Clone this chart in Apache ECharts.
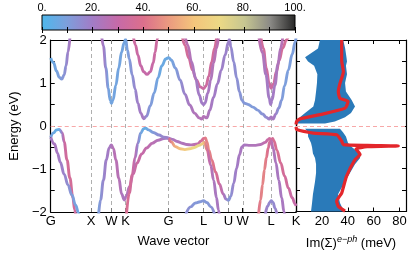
<!DOCTYPE html>
<html><head><meta charset="utf-8">
<script src="https://cdn.jsdelivr.net/npm/echarts@6/dist/echarts.min.js"></script>
<style>html,body{margin:0;padding:0;background:#fff}#c{width:415px;height:255px}</style>
</head><body><div id="c"></div>
<script>
// ---- k-path ----
const kTicks = [0, 1, 1.5, 1.8536, 2.9142, 3.7802, 4.3926, 4.7462, 5.4533, 6.0657];
const kLabels = ['G','X','W','K','G','L','U','W','L','K'];
// ---- colour scale (weight 0..100) ----
const cmapValues = [0,10,20,30,40,50,60,70,80,90,100];
const cmapColors = ['#4db8ec','#7d9fdc','#a27cc6','#c66aa8','#dc6f8c','#eb9a80','#f4c57c','#ecd985','#c6c691','#8b8a86','#262626'];
const colorbarLabels = [0,20,40,60,80,100];
// ---- bands: [k, E (eV), weight] ----
const cb1 = [[0,1.58,6],[0.071,1.47,6],[0.142,1.28,8],[0.213,1.13,10],[0.273,1.09,12],[0.332,1.19,14],[0.379,1.40,18],[0.427,1.72,22],[0.474,2.05,24]];
const cb2 = [[1.256,2.12,25],[1.303,1.86,24],[1.363,1.35,20],[1.422,0.88,15],[1.469,0.60,10],[1.5,0.53,8],[1.540,0.60,8],[1.611,0.95,8],[1.682,1.35,8],[1.754,1.72,8],[1.813,1.93,8],[1.853,2.02,8],[1.896,1.77,8],[1.943,1.56,10],[2.014,1.19,12],[2.085,0.86,15],[2.156,0.53,18],[2.227,0.30,20],[2.299,0.17,22],[2.370,0.23,18],[2.464,0.47,12],[2.559,0.77,10],[2.654,1.12,8],[2.749,1.40,6],[2.844,1.56,6],[2.915,1.59,6],[2.986,1.53,8],[3.081,1.35,10],[3.199,1.07,14],[3.318,0.74,18],[3.436,0.49,22],[3.555,0.30,24],[3.673,0.19,25],[3.732,0.16,25],[3.780,0.22,25],[3.863,0.19,24],[3.934,0.37,22],[4.028,0.67,20],[4.123,0.98,20],[4.218,1.30,19],[4.313,1.65,18],[4.393,1.95,18],[4.420,2.02,18],[4.455,1.84,16],[4.526,1.49,15],[4.597,1.12,14],[4.668,0.79,13],[4.728,0.60,12],[4.787,0.53,12],[4.882,0.50,11],[5.0,0.44,11],[5.118,0.37,12],[5.237,0.28,14],[5.332,0.20,18],[5.403,0.16,22],[5.450,0.21,22],[5.498,0.16,20],[5.569,0.28,14],[5.640,0.42,12],[5.711,0.60,10],[5.782,0.93,10],[5.877,1.30,10],[5.972,1.67,10],[6.043,1.95,10],[6.066,2.05,10]];
const cb3 = [[2.038,2.12,33],[2.097,1.88,33],[2.156,1.65,32],[2.227,1.40,30],[2.299,1.26,30],[2.381,1.20,30],[2.464,1.26,30],[2.536,1.47,32],[2.583,1.72,33],[2.630,2.0,34],[2.654,2.14,34]];
const cb4 = [[3.246,2.12,36],[3.318,1.88,36],[3.412,1.58,35],[3.507,1.30,34],[3.602,1.07,33],[3.697,0.91,32],[3.780,0.87,32],[3.839,0.93,33],[3.910,1.16,34],[3.981,1.49,35],[4.052,1.81,36],[4.100,2.05,36]];
const cb5 = [[3.318,2.12,28],[3.389,1.88,27],[3.483,1.49,25],[3.578,1.12,22],[3.673,0.72,20],[3.744,0.53,20],[3.780,0.50,20],[3.815,0.53,20],[3.886,0.77,22],[3.957,1.07,24],[4.028,1.47,26],[4.100,1.81,27],[4.147,2.05,28]];
const cb6 = [[5.190,2.12,36],[5.260,1.80,35],[5.330,1.35,34],[5.400,1.00,33],[5.450,0.88,32],[5.510,0.98,33],[5.580,1.26,34],[5.650,1.53,35],[5.735,1.81,36],[5.829,2.0,36],[5.877,2.09,36]];
const cb7 = [[5.142,2.12,28],[5.237,1.70,26],[5.320,1.20,22],[5.403,0.65,20],[5.438,0.50,20],[5.474,0.60,20],[5.545,0.95,22],[5.616,1.42,24],[5.687,1.81,26],[5.735,2.05,28]];
const vb1 = [[0,-0.26,10],[0.071,-0.16,8],[0.142,-0.09,5],[0.213,-0.08,5],[0.284,-0.16,20],[0.332,-0.37,32],[0.403,-0.79,36],[0.474,-1.21,36],[0.545,-1.65,34],[0.592,-1.95,32],[0.616,-2.07,32]];
const vb2 = [[0,-0.26,18],[0.095,-0.42,22],[0.166,-0.63,22],[0.237,-0.84,20],[0.332,-1.12,18],[0.427,-1.37,14],[0.521,-1.60,10],[0.616,-1.84,8],[0.687,-2.02,6],[0.711,-2.09,6]];
const vb3 = [[1.185,-2.05,8],[1.232,-1.72,10],[1.303,-1.26,14],[1.374,-0.79,18],[1.445,-0.51,20],[1.5,-0.44,22],[1.552,-0.53,24],[1.611,-0.79,26],[1.682,-1.21,26],[1.754,-1.58,24],[1.818,-1.72,22],[1.872,-1.63,24],[1.943,-1.42,28],[2.038,-1.12,32],[2.133,-0.86,32],[2.251,-0.65,30],[2.370,-0.51,28],[2.512,-0.40,26],[2.654,-0.33,24],[2.796,-0.29,22],[2.915,-0.28,20]];
const vb4 = [[1.872,-2.07,38],[1.943,-1.56,38],[2.014,-1.14,36],[2.085,-0.74,30],[2.156,-0.40,20],[2.227,-0.16,10],[2.299,-0.06,5],[2.346,-0.05,5],[2.417,-0.09,8],[2.536,-0.15,12],[2.678,-0.21,16],[2.796,-0.26,18],[2.915,-0.28,20]];
const vb5 = [[2.915,-0.28,20],[3.009,-0.31,22],[3.128,-0.36,24],[3.246,-0.40,24],[3.365,-0.43,24],[3.483,-0.44,25],[3.626,-0.42,28],[3.720,-0.35,32],[3.780,-0.29,38],[3.827,-0.28,42],[3.863,-0.37,44],[3.910,-0.56,46],[3.981,-0.79,44],[4.076,-1.07,40],[4.171,-1.35,34],[4.265,-1.58,26],[4.336,-1.70,18],[4.396,-1.73,12],[4.455,-1.63,14],[4.526,-1.33,18],[4.597,-0.98,20],[4.668,-0.67,22],[4.728,-0.49,22],[4.787,-0.44,22],[4.929,-0.45,24],[5.071,-0.45,24],[5.190,-0.43,26],[5.308,-0.38,30],[5.379,-0.31,34],[5.415,-0.29,36],[5.450,-0.33,36],[5.486,-0.29,38],[5.521,-0.35,38],[5.592,-0.56,38],[5.687,-0.86,36],[5.782,-1.16,34],[5.877,-1.44,32],[5.972,-1.67,30],[6.043,-1.81,28],[6.066,-1.86,28]];
const vb6 = [[2.915,-0.28,15],[2.986,-0.37,40],[3.081,-0.48,52],[3.199,-0.53,58],[3.318,-0.55,62],[3.436,-0.53,66],[3.555,-0.50,70],[3.673,-0.45,72],[3.744,-0.42,62],[3.800,-0.38,45],[3.863,-0.55,30],[3.957,-0.91,24],[4.028,-1.26,22],[4.100,-1.67,22],[4.147,-1.95,22],[4.171,-2.07,22]];
const vb7 = [[5.142,-2.05,40],[5.190,-1.72,42],[5.237,-1.37,44],[5.284,-1.02,45],[5.332,-0.74,44],[5.379,-0.51,40],[5.415,-0.37,35],[5.450,-0.35,28],[5.498,-0.51,24],[5.569,-0.86,22],[5.640,-1.26,22],[5.711,-1.67,22],[5.770,-2.0,22],[5.794,-2.12,22]];
const vb8 = [[3.341,-2.05,15],[3.460,-1.88,14],[3.578,-1.79,12],[3.697,-1.76,12],[3.775,-1.74,12],[3.863,-1.78,12],[3.957,-1.88,14],[4.052,-2.05,16]];
const vb9 = [[5.308,-2.05,20],[5.367,-1.86,18],[5.415,-1.78,16],[5.450,-1.74,16],[5.498,-1.78,16],[5.545,-1.91,18],[5.592,-2.05,20]];
const bands = [cb1,cb2,cb3,cb4,cb5,cb6,cb7,vb1,vb2,vb3,vb4,vb5,vb6,vb7,vb8,vb9];
// ---- self-energy panel ----
const upE  = [2.0, 1.8, 1.6, 1.5, 1.4, 1.2, 1.0, 0.8, 0.6, 0.45, 0.3, 0.2, 0.1, 0.05];
const upLo = [18.5,17,7,9.3,14,16.5,16.2,15.5,14.7,13.4,7,3,1.5,0.8];
const upHi = [36.5,38,39,39.4,38.6,39.4,37.9,38.6,43,45.6,42.5,37.9,30,22.4];
const loE  = [-0.07,-0.15,-0.25,-0.4,-0.5,-0.65,-0.75,-0.9,-1.1,-1.3,-1.6,-1.8,-2.0];
const loLo = [7,9.3,9.3,11.6,12.4,13.1,14.7,15.5,15.5,14.7,13.1,12.4,11.6];
const loHi = [34,36.3,38.6,40.2,43.3,49.5,49.5,45.6,41.7,37.9,32.5,34,37.1];
const redE = [2.0,1.53,1.26,0.99,0.8,0.64,0.57,0.41,0.26,0.16,0.1,0.03];
const redV = [35.3,35.3,36.6,34,32.7,34,40.2,37.9,18.5,3.1,0.5,0];
const red2E = [-0.03,-0.09,-0.17,-0.21,-0.36,-0.44,-0.46,-0.472,-0.49,-0.54,-0.67,-0.79,-1.18,-1.57,-1.76,-1.88,-1.99];
const red2V = [0,0.5,13.4,31.4,35.3,36.6,55,79,55,46.4,49.5,45.6,39,35.3,31.4,32.7,37.9];

function hex(h){return [parseInt(h.substr(1,2),16),parseInt(h.substr(3,2),16),parseInt(h.substr(5,2),16)];}
function cmap(w){
  for(let i=0;i<cmapValues.length-1;i++){
    if(w<=cmapValues[i+1]){
      const t=(w-cmapValues[i])/(cmapValues[i+1]-cmapValues[i]);
      const a=hex(cmapColors[i]), b=hex(cmapColors[i+1]);
      return 'rgb('+a.map((v,j)=>Math.round(v+(b[j]-v)*t)).join(',')+')';
    }
  }
  return cmapColors[cmapColors.length-1];
}
function bandSeries(pts, extra){
  const x0=pts[0][0], x1=pts[pts.length-1][0];
  const stops=pts.map(p=>({offset:(p[0]-x0)/(x1-x0), color:cmap(p[2])}));
  return Object.assign({type:'line', xAxisIndex:0, yAxisIndex:0, data:pts.map(p=>[p[0],p[1]]),
    smooth:0.4, smoothMonotone:'x', symbol:'none', silent:true, z:3,
    lineStyle:{width:2.9, color:new echarts.graphic.LinearGradient(0,0,1,0,stops)}}, extra||{});
}
function polySeries(E, lo, hi){
  return {type:'custom', coordinateSystem:'cartesian2d', xAxisIndex:2, yAxisIndex:2, data:[[0,0]], silent:true, z:2,
    renderItem:function(params, api){
      const pts=[];
      for(let i=0;i<E.length;i++) pts.push(api.coord([lo[i],E[i]]));
      for(let i=E.length-1;i>=0;i--) pts.push(api.coord([hi[i],E[i]]));
      return {type:'polygon', shape:{points:pts}, style:{fill:'#2a7ab9'}};
    }};
}
const fontFam = '"Liberation Sans", Arial, sans-serif';
const tickStyle = {inside:true, length:4, lineStyle:{color:'#000', width:1}};
const axisLn = {show:true, onZero:false, lineStyle:{color:'#000', width:1.2}};
const zeroLine = {yAxis:0, lineStyle:{color:'#f7a8a8', type:[4,3], width:1}};
const series = bands.map((b,i)=> bandSeries(b, i===0 ? {markLine:{silent:true, symbol:'none', label:{show:false}, z:1,
  data:[zeroLine].concat(kTicks.slice(1,-1).map(v=>({xAxis:v, lineStyle:{color:'#9a9a9a', type:[4,3], width:0.8}})))}} : {}));
series.unshift(polySeries(loE, loLo, loHi));
series.unshift(polySeries(upE, upLo, upHi));
series.push({type:'line', xAxisIndex:2, yAxisIndex:2, data:redV.map((v,i)=>[v,redE[i]]), symbol:'none', smooth:0.2, silent:true, z:4,
  lineStyle:{color:'#e3262b', width:3.2},
  markLine:{silent:true, symbol:'none', label:{show:false}, data:[zeroLine]}});
series.push({type:'line', xAxisIndex:2, yAxisIndex:2, data:red2V.map((v,i)=>[v,red2E[i]]), symbol:'none', smooth:0.15, silent:true, z:4,
  lineStyle:{color:'#e3262b', width:3.2}});
// colour bar
const cbStops = cmapValues.map((v,i)=>({offset:v/100, color:cmapColors[i]}));
series.push({type:'custom', coordinateSystem:'cartesian2d', xAxisIndex:4, yAxisIndex:4, data:[[0,0,100,1]], silent:true, z:1,
  renderItem:function(params, api){
    const p0=api.coord([api.value(0),api.value(1)]), p1=api.coord([api.value(2),api.value(3)]);
    return {type:'rect', shape:{x:p0[0], y:p1[1], width:p1[0]-p0[0], height:p0[1]-p1[1]},
      style:{fill:new echarts.graphic.LinearGradient(0,0,1,0,cbStops), stroke:'#000', lineWidth:1}};
  }});

const chart = echarts.init(document.getElementById('c'));
chart.setOption({
  animation:false,
  textStyle:{fontFamily:fontFam},
  grid:[{left:40, top:40, width:256, height:172},
        {left:296, top:40, width:110, height:172},
        {left:42, top:15, width:253, height:15}],
  xAxis:[
    {gridIndex:0, type:'value', min:0, max:6.0657, position:'bottom', axisLine:axisLn, splitLine:{show:false},
     axisTick:Object.assign({customValues:kTicks}, tickStyle),
     axisLabel:{customValues:kTicks, color:'#000', fontSize:13, margin:3, fontFamily:fontFam,
       formatter:function(v){const i=kTicks.findIndex(t=>Math.abs(t-v)<1e-6); return i>=0?kLabels[i]:'';}},
     name:'Wave vector', nameLocation:'middle', nameGap:23, nameTextStyle:{color:'#000', fontSize:13, fontFamily:fontFam}},
    {gridIndex:0, type:'value', min:0, max:6.0657, position:'top', axisLine:axisLn, splitLine:{show:false},
     axisTick:Object.assign({customValues:kTicks}, tickStyle), axisLabel:{show:false}},
    {gridIndex:1, type:'value', min:0, max:85, interval:20, position:'bottom', axisLine:axisLn, splitLine:{show:false},
     axisTick:tickStyle,
     axisLabel:{color:'#000', fontSize:13, margin:3, fontFamily:fontFam, showMaxLabel:false, formatter:function(v){return v===0?'':String(v);}},
     name:'{a|Im(Σ)}{b|e−ph}{a| (meV)}', nameLocation:'middle', nameGap:23,
     nameTextStyle:{color:'#000', fontSize:13, fontFamily:fontFam, rich:{a:{fontSize:13, color:'#000', lineHeight:18, fontFamily:fontFam}, b:{fontSize:9, fontStyle:'italic', color:'#000', verticalAlign:'top', lineHeight:10, fontFamily:fontFam}}}},
    {gridIndex:1, type:'value', min:0, max:85, interval:20, position:'top', axisLine:axisLn, splitLine:{show:false},
     axisTick:tickStyle, axisLabel:{show:false}},
    {gridIndex:2, type:'value', min:0, max:100, interval:10, position:'top', axisLine:{show:false}, splitLine:{show:false}, z:5,
     axisTick:{inside:true, length:3, lineStyle:{color:'#000', width:1}},
     axisLabel:{color:'#000', fontSize:11, margin:2, fontFamily:fontFam, formatter:function(v){return colorbarLabels.indexOf(v)>=0 ? v+'.' : '';}}},
    {gridIndex:2, type:'value', min:0, max:100, interval:10, position:'bottom', axisLine:{show:false}, splitLine:{show:false}, z:5,
     axisTick:{inside:true, length:3, lineStyle:{color:'#000', width:1}}, axisLabel:{show:false}}
  ],
  yAxis:[
    {gridIndex:0, type:'value', min:-2, max:2, interval:0.5, position:'left', axisLine:axisLn, splitLine:{show:false},
     axisTick:tickStyle,
     axisLabel:{color:'#000', fontSize:13, margin:4, fontFamily:fontFam, formatter:function(v){return Number.isInteger(v)? String(v).replace('-','\u2212') : '';}},
     name:'Energy (eV)', nameLocation:'middle', nameGap:27, nameRotate:90, nameTextStyle:{color:'#000', fontSize:13, fontFamily:fontFam}},
    {gridIndex:0, type:'value', min:-2, max:2, interval:0.5, position:'right', axisLine:axisLn, splitLine:{show:false},
     axisTick:{show:false}, axisLabel:{show:false}},
    {gridIndex:1, type:'value', min:-2, max:2, interval:0.5, position:'left', axisLine:axisLn, splitLine:{show:false},
     axisTick:tickStyle, axisLabel:{show:false}},
    {gridIndex:1, type:'value', min:-2, max:2, interval:0.5, position:'right', axisLine:axisLn, splitLine:{show:false},
     axisTick:tickStyle, axisLabel:{show:false}},
    {gridIndex:2, type:'value', min:0, max:1, show:false}
  ],
  series:series
});
</script></body></html>
